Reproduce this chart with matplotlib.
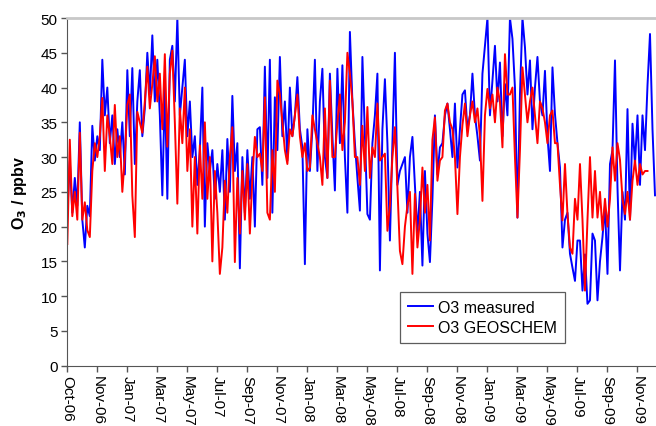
import numpy as np
import matplotlib
matplotlib.use("Agg")
import matplotlib.pyplot as plt

plt.rcParams['font.family'] = ['Liberation Sans', 'DejaVu Sans']

# 5-day samples starting 1 Oct 2006 (day 0)
step_days = 5
o3_measured = [
    22, 29.5, 22, 27, 23, 35, 21, 17, 23, 21.5,
    34.5, 29.5, 33, 31, 44, 36, 40, 32, 36, 29,
    34, 30, 35, 27.5, 42.5, 33, 42.8, 29, 38, 42.5,
    33, 37, 45, 39, 47.5, 38, 44, 36,
    24.5,
    40, 24, 44, 46, 38, 50, 36, 40, 44, 33,
    38, 30, 33, 26, 31, 40, 20, 32, 28, 31,
    24, 29, 25, 31, 21, 32.6, 25, 38.8, 28, 32,
    14, 30, 22, 31, 24, 30, 20, 34,
    34.3, 26, 43, 27, 44, 22, 38.6, 31, 44.4, 33,
    38, 29.5, 40, 33, 36, 41.5, 34, 31.4, 14.6, 34,
    28, 34, 44, 28, 38, 42.7, 30, 27, 42, 33,
    25.2, 42.7, 32, 43.2, 30, 22, 48, 38, 32,
    27, 22.3, 44.4, 33, 21.8, 21, 32, 36, 42, 13.7,
    34, 41.2, 32, 18, 32, 45, 26, 28, 29, 30,
    22, 30, 32.9, 26, 19, 25, 14.4, 28, 19, 14.9,
    24, 36, 27.5, 31.4, 32, 36, 37.7, 34, 30,
    37.7, 28.5, 34, 39, 39.6, 34, 36, 42, 36, 33,
    29.5, 42, 46, 50, 36, 41, 46, 38, 43.6, 33,
    40.5, 36, 50, 47, 40, 21.3, 39, 50, 45.8, 39,
    43.9, 34, 40, 44.4, 38, 36, 42.4, 33, 28,
    42.9, 36.2, 32, 28.5, 17, 21, 22, 16.1, 14.1, 12.2,
    18, 18, 10.8, 16, 8.9, 9.4, 19, 18, 9.4, 15,
    18.5, 23, 13.2, 29, 31, 43.9, 25.6, 13.7, 25, 21,
    36.9, 21, 34.8, 29, 36, 26, 36, 31, 40.3, 47.7, 34, 24.5,
]
o3_geoschem = [
    17.5, 32.5, 21.5, 25, 21, 33.5, 21, 23.5, 19.5, 18.5,
    28, 32, 30, 33, 38.5, 28, 36, 33, 29, 37.5,
    30, 33, 25, 30, 37.5, 39, 24.5, 18.5, 36.5, 35,
    33.5, 38, 43, 37, 40.5, 44.5, 38, 42,
    34,
    44.8, 31.5, 42, 45.3, 35, 23.3, 37, 32, 40, 28,
    34, 20, 30, 19, 31.7, 24, 35, 24, 30, 15,
    28, 22, 13.2, 17, 26.6, 22, 30, 34.3, 14.9, 27,
    19, 28, 21, 29, 19, 27, 32.9, 30,
    30.5, 28, 38.6, 22, 21, 31, 25, 41, 39, 35,
    31, 29, 34, 33, 36, 39, 33, 30, 32, 28,
    28.5, 36, 34, 32, 30, 26, 37, 27, 41, 30,
    30, 35, 39, 31, 35, 45, 42, 38, 30,
    30, 26, 34.5, 28, 37.2, 27, 31.4, 30, 37.7, 29.5,
    30, 30.5, 19.4, 23, 30, 34.3, 25.6, 16.5, 14.6, 20,
    23, 25, 13.2, 24.7, 17, 21, 28.5, 22, 26, 18,
    32.5, 35.7, 26.6, 29.5, 30, 36.7, 37.7, 35, 34,
    30, 21.8, 30, 34.6, 37.7, 33, 36, 38, 35, 37,
    33, 23.7, 36, 39.8, 37, 39, 35, 40, 38, 31.4,
    44.8, 39, 39, 40, 30, 21.3, 31, 42.9, 39, 35,
    38, 40, 36, 32, 38, 37, 35, 32, 36,
    36.7, 32, 32, 26, 20.9, 29, 21.8, 17, 16.1, 24,
    21, 29, 21, 10.8, 21, 30, 21.3, 28, 21.3, 25,
    19.5, 24, 20, 24, 31.4, 26.6, 32, 29.6, 24, 21.8,
    25, 21, 26.6, 29.5, 26, 29, 27.5, 28, 28, np.nan, np.nan, np.nan,
]

# Excel-style ticks every 60 days from 1 Oct 2006
tick_step_days = 60
tick_labels = ['Oct-06', 'Nov-06', 'Jan-07', 'Mar-07', 'May-07', 'Jul-07', 'Sep-07',
               'Nov-07', 'Jan-08', 'Mar-08', 'May-08', 'Jul-08', 'Sep-08', 'Nov-08',
               'Jan-09', 'Mar-09', 'May-09', 'Jul-09', 'Sep-09', 'Nov-09']
x_end_days = 1177

days = np.arange(len(o3_measured)) * step_days

fig = plt.figure(figsize=(6.56, 4.27), dpi=100)
ax = fig.add_axes([0.1026, 0.1412, 0.8974, 0.8143])

ax.plot(days, o3_measured, color='#0000ff', linewidth=1.4, label='O3 measured')
ax.plot(days, o3_geoschem, color='#ff0000', linewidth=1.4, label='O3 GEOSCHEM')

ax.set_xlim(0, x_end_days)
ax.set_ylim(0, 50)
ax.set_yticks(np.arange(0, 51, 5))
ax.set_xticks(np.arange(len(tick_labels)) * tick_step_days)
ax.set_xticklabels(tick_labels, rotation=-90, va='top', ha='center')

ax.tick_params(axis='both', direction='out', length=4, width=1, color='#555555',
               labelsize=11, pad=3)
ax.spines['left'].set_color('#555555')
ax.spines['bottom'].set_color('#555555')
ax.spines['top'].set_color('#c8c8c8')
ax.spines['top'].set_linewidth(2)
ax.spines['right'].set_visible(False)

ax.set_ylabel('O$_\\mathbf{3}$ / ppbv', fontsize=11.5, fontweight='bold', labelpad=8)

leg = ax.legend(loc='center', bbox_to_anchor=(0.705, 0.139), fontsize=11.5,
                frameon=True, fancybox=False, edgecolor='#333333',
                handlelength=1.6, handletextpad=0.3, borderpad=0.5, labelspacing=0.3)
leg.get_frame().set_linewidth(0.9)

fig.savefig('out.png', dpi=100)
